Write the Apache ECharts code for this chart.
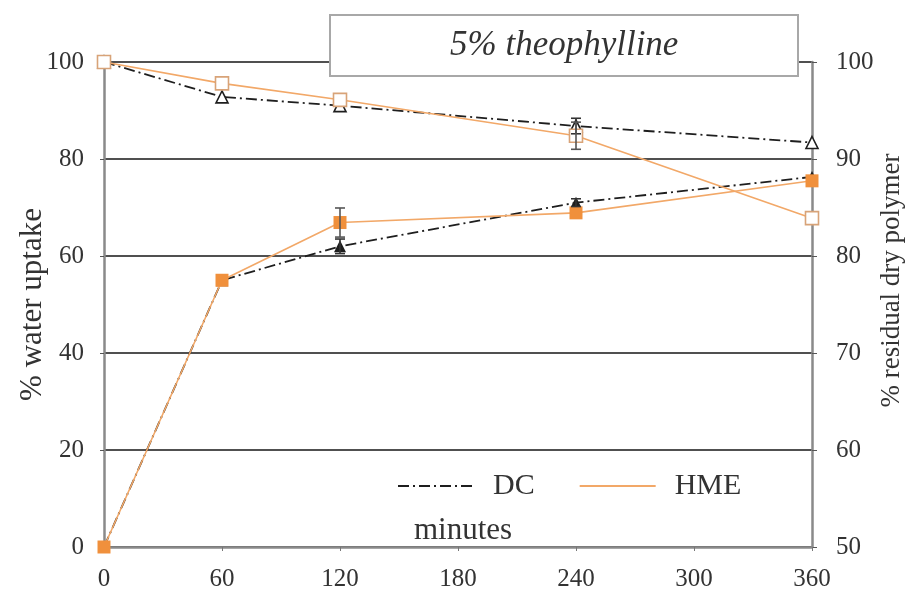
<!DOCTYPE html>
<html>
<head>
<meta charset="utf-8">
<script src="https://cdn.jsdelivr.net/npm/echarts@6/dist/echarts.min.js"></script>
<style>
  html, body { margin: 0; padding: 0; background: #fff; }
  #chart { width: 907px; height: 594px; }
</style>
</head>
<body>
<div id="chart"></div>
<script>
// Sampling times (minutes)
const minutes = [0, 60, 120, 240, 360];

// % water uptake (left axis)
const dcUptake = [0, 55, 62, 71, 76.3];
const hmeUptake = [0, 55, 66.9, 68.9, 75.5];
const dcUptakeErr = [0, 0, 1.5, 0.8, 0];
const hmeUptakeErr = [0, 0, 3, 0, 0];

// % residual dry polymer (right axis)
const dcResidual = [100, 96.4, 95.5, 93.4, 91.7];
const hmeResidual = [100, 97.8, 96.1, 92.4, 83.9];
const dcResidualErr = [0, 0, 0, 0.8, 0];
const hmeResidualErr = [0, 0, 0, 1.4, 0];

// Axis ticks
const xTicks = { min: 0, max: 360, interval: 60 };
const leftTicks = { min: 0, max: 100, interval: 20 };
const rightTicks = { min: 50, max: 100, interval: 10 };

const SERIF = "'Liberation Serif', 'DejaVu Serif', serif";
const ORANGE = '#f0903c';
const ORANGE_LINE = '#f2a868';
const DARK = '#1e1e1e';
const DASHDOT = [11, 4, 2, 4];

const pairs = (ys) => minutes.map((m, i) => [m, ys[i]]);
const triples = (ys, es) => minutes.map((m, i) => [m, ys[i], es[i]]);

function errorBar(color) {
  return function (params, api) {
    const x = api.value(0), y = api.value(1), e = api.value(2);
    if (!e) return null;
    const hi = api.coord([x, y + e]);
    const lo = api.coord([x, y - e]);
    const cap = 5;
    const style = { stroke: color, lineWidth: 1.6 };
    return {
      type: 'group',
      children: [
        { type: 'line', shape: { x1: hi[0], y1: hi[1], x2: lo[0], y2: lo[1] }, style },
        { type: 'line', shape: { x1: hi[0] - cap, y1: hi[1], x2: hi[0] + cap, y2: hi[1] }, style },
        { type: 'line', shape: { x1: lo[0] - cap, y1: lo[1], x2: lo[0] + cap, y2: lo[1] }, style }
      ]
    };
  };
}

const chart = echarts.init(document.getElementById('chart'), null, { renderer: 'canvas' });

chart.setOption({
  backgroundColor: '#ffffff',
  animation: false,
  title: {
    text: '5% theophylline',
    left: 330,
    top: 15,
    padding: [13, 120],
    backgroundColor: '#ffffff',
    borderColor: '#a8a8a8',
    borderWidth: 2,
    textStyle: {
      fontFamily: SERIF,
      fontStyle: 'italic',
      fontWeight: 'normal',
      fontSize: 35,
      color: '#333'
    },
    z: 10
  },
  legend: {
    left: 392,
    top: 466,
    itemWidth: 76,
    itemHeight: 14,
    itemGap: 44,
    data: ['DC', 'HME'],
    itemStyle: { opacity: 0 },
    textStyle: {
      fontFamily: SERIF,
      fontSize: 30,
      color: '#333',
      padding: [0, 0, 0, 14]
    }
  },
  grid: { left: 104, right: 95, top: 62, bottom: 47, containLabel: false, outerBoundsMode: 'none' },
  xAxis: {
    type: 'value',
    min: xTicks.min,
    max: xTicks.max,
    interval: xTicks.interval,
    name: 'minutes',
    nameLocation: 'middle',
    nameGap: -32,
    nameMoveOverlap: false,
    nameTextStyle: { fontFamily: SERIF, fontSize: 31, color: '#333', padding: [0, 0, 0, 10] },
    axisLine: { lineStyle: { color: '#8a8a8a', width: 2.5 } },
    axisTick: { show: true, length: 4, lineStyle: { color: '#777' } },
    axisLabel: { fontFamily: SERIF, fontSize: 25, color: '#333', margin: 20 },
    splitLine: { show: false }
  },
  yAxis: [
    {
      type: 'value',
      position: 'left',
      min: leftTicks.min,
      max: leftTicks.max,
      interval: leftTicks.interval,
      name: '% water uptake',
      nameLocation: 'middle',
      nameRotate: 90,
      nameGap: 56,
      nameMoveOverlap: false,
      nameTextStyle: { fontFamily: SERIF, fontSize: 31, color: '#333' },
      axisLine: { show: true, lineStyle: { color: '#8a8a8a', width: 2.5 } },
      axisTick: { show: true, length: 4, lineStyle: { color: '#555' } },
      axisLabel: { fontFamily: SERIF, fontSize: 25, color: '#333', margin: 20 },
      splitLine: { show: true, lineStyle: { color: '#505050', width: 2 } }
    },
    {
      type: 'value',
      position: 'right',
      min: rightTicks.min,
      max: rightTicks.max,
      interval: rightTicks.interval,
      name: '% residual dry polymer',
      nameLocation: 'middle',
      nameRotate: 90,
      nameGap: 66,
      nameMoveOverlap: false,
      nameTextStyle: { fontFamily: SERIF, fontSize: 27, color: '#333', padding: [0, 0, 0, 48] },
      axisLine: { show: true, lineStyle: { color: '#8a8a8a', width: 2.5 } },
      axisTick: { show: true, length: 5, lineStyle: { color: '#555' } },
      axisLabel: { fontFamily: SERIF, fontSize: 25, color: '#333', margin: 24 },
      splitLine: { show: false }
    }
  ],
  series: [
    {
      name: 'DC',
      type: 'line',
      yAxisIndex: 0,
      data: pairs(dcUptake),
      symbol: 'triangle',
      symbolSize: 12,
      itemStyle: { color: DARK },
      lineStyle: { color: DARK, width: 1.8, type: DASHDOT },
      z: 3
    },
    {
      name: 'DC',
      type: 'line',
      yAxisIndex: 1,
      data: pairs(dcResidual),
      symbol: 'triangle',
      symbolSize: 12,
      itemStyle: { color: '#ffffff', borderColor: DARK, borderWidth: 1.6 },
      lineStyle: { color: DARK, width: 1.8, type: DASHDOT },
      z: 3
    },
    {
      name: 'HME',
      type: 'line',
      yAxisIndex: 0,
      data: pairs(hmeUptake),
      symbol: 'rect',
      symbolSize: 13,
      itemStyle: { color: ORANGE },
      lineStyle: { color: ORANGE_LINE, width: 1.6 },
      z: 4
    },
    {
      name: 'HME',
      type: 'line',
      yAxisIndex: 1,
      data: pairs(hmeResidual),
      symbol: 'rect',
      symbolSize: 13,
      itemStyle: { color: '#ffffff', borderColor: '#d8a378', borderWidth: 1.6 },
      lineStyle: { color: ORANGE_LINE, width: 1.6 },
      z: 4
    },
    {
      type: 'custom',
      yAxisIndex: 0,
      renderItem: errorBar('#333'),
      data: triples(dcUptake, dcUptakeErr),
      z: 5
    },
    {
      type: 'custom',
      yAxisIndex: 0,
      renderItem: errorBar('#555'),
      data: triples(hmeUptake, hmeUptakeErr),
      z: 5
    },
    {
      type: 'custom',
      yAxisIndex: 1,
      renderItem: errorBar('#333'),
      data: triples(dcResidual, dcResidualErr),
      z: 5
    },
    {
      type: 'custom',
      yAxisIndex: 1,
      renderItem: errorBar('#555'),
      data: triples(hmeResidual, hmeResidualErr),
      z: 5
    }
  ]
});
</script>
</body>
</html>
